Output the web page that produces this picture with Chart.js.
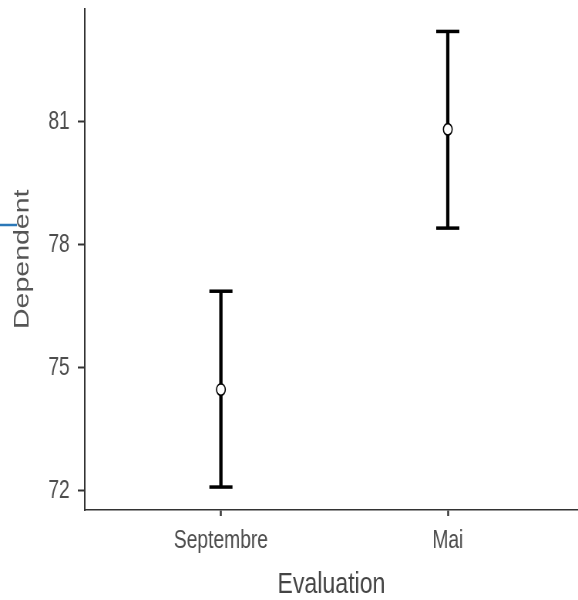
<!DOCTYPE html>
<html>
<head>
<meta charset="utf-8">
<script src="https://cdn.jsdelivr.net/npm/chart.js@4"></script>
<style>
  body { margin: 0; background: #fff; overflow: hidden; }
  canvas { display: block; }
</style>
</head>
<body>
<!-- drawn 750 wide and shown 578 wide: the reference is squeezed sideways -->
<canvas id="myChart" width="750" height="600" style="width:578px;height:600px"></canvas>
<script>
const categories = ['Septembre', 'Mai']
const means = [74.47, 80.82]
const lower = [72.09, 78.41]
const upper = [76.87, 83.21]
const yTicks = [72, 75, 78, 81]

const sans = "'Liberation Sans', Arial, sans-serif"

// vertical whiskers, one segment per category, broken by a null point
const whiskers = []
for (let i = 0; i < categories.length; i++) {
    whiskers.push({x: i + 1, y: lower[i]})
    whiskers.push({x: i + 1, y: upper[i]})
    whiskers.push({x: i + 1.5, y: null})
}
const meanPoints = means.map((m, i) => ({x: i + 1, y: m}))

// the little blue mark left of the y title
const blueMark = {
    id: 'blueMark',
    afterDraw(chart) {
        const ctx = chart.ctx
        ctx.save()
        ctx.strokeStyle = '#2b78b8'
        ctx.lineWidth = 2.5
        ctx.beginPath()
        ctx.moveTo(0, 225)
        ctx.lineTo(22, 225)
        ctx.stroke()
        ctx.restore()
    }
}

function noPadding(s) {
    s.paddingTop = 0
    s.paddingBottom = 0
    s.paddingLeft = 0
    s.paddingRight = 0
}

const ctx = document.getElementById('myChart')
const myChart = new Chart(ctx, {
    type: 'line',
    data: {
        datasets: [{
            data: whiskers,
            borderColor: '#000',
            borderWidth: 4.3,
            spanGaps: false,
            pointStyle: 'line',
            pointRadius: 15,
            pointBorderWidth: 3.5,
            pointBorderColor: '#000',
            clip: false,
            order: 2
        }, {
            data: meanPoints,
            showLine: false,
            pointStyle: 'circle',
            pointRadius: 5.7,
            pointBorderWidth: 1.6,
            pointBorderColor: '#000',
            pointBackgroundColor: '#fff',
            clip: false,
            order: 1
        }]
    },
    options: {
        responsive: false,
        devicePixelRatio: 1,
        animation: false,
        layout: {autoPadding: false, padding: {top: 8.5, left: 0, right: 0, bottom: 0}},
        plugins: {legend: {display: false}, tooltip: {enabled: false}},
        scales: {
            x: {
                type: 'linear',
                min: 0.4,
                max: 2.574,
                afterFit: s => { s.height = 90; noPadding(s) },
                afterBuildTicks: s => { s.ticks = categories.map((c, i) => ({value: i + 1})) },
                ticks: {
                    callback: v => categories[v - 1],
                    color: '#4d4d4d',
                    font: {family: sans, size: 25},
                    padding: 10,
                    maxRotation: 0
                },
                grid: {drawOnChartArea: false, tickLength: 6, tickWidth: 2.5, tickColor: '#333'},
                border: {color: '#333', width: 1.5},
                title: {
                    display: true,
                    text: 'Evaluation',
                    color: '#444',
                    font: {family: sans, size: 30},
                    padding: {top: 0, bottom: -3}
                }
            },
            y: {
                min: 71.53,
                max: 83.77,
                afterFit: s => { s.width = 110; noPadding(s) },
                afterBuildTicks: s => { s.ticks = yTicks.map(v => ({value: v})) },
                ticks: {
                    color: '#4d4d4d',
                    font: {family: sans, size: 25},
                    padding: 10.5
                },
                grid: {drawOnChartArea: false, tickLength: 9, tickWidth: 2, tickColor: '#333'},
                border: {color: '#333', width: 2},
                title: {
                    display: true,
                    text: 'Dependent',
                    color: '#555',
                    font: {family: sans, size: 28.5},
                    padding: {top: 12, bottom: 0}
                }
            }
        }
    },
    plugins: [blueMark]
})
</script>
</body>
</html>
